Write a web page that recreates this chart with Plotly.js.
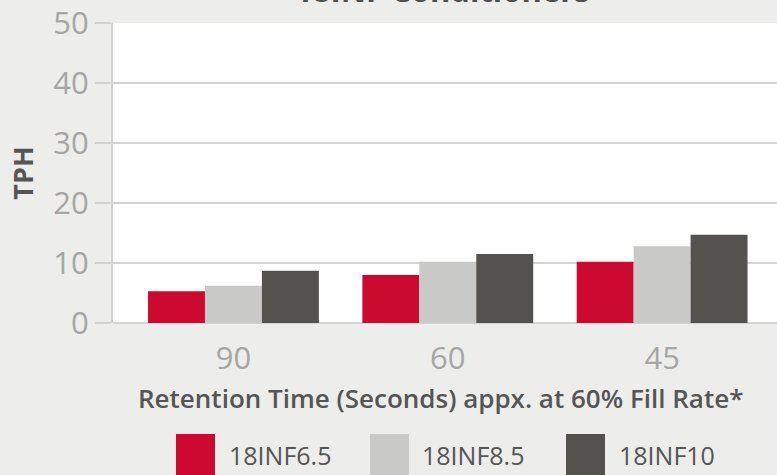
<!DOCTYPE html>
<html>
<head>
<meta charset="utf-8">
<script src="https://cdn.plot.ly/plotly-3.0.1.min.js"></script>
<style>html,body{margin:0;padding:0;background:#EDEDEB;}#chart{width:777px;height:475px;}</style>
</head>
<body>
<div id="chart"></div>
<script>
var categories = ["90", "60", "45"];
var seriesNames = ["18INF6.5", "18INF8.5", "18INF10"];
var series65 = [5.3, 8.0, 10.2];
var series85 = [6.2, 10.2, 12.8];
var series10 = [8.7, 11.5, 14.7];
var yTicks = [0, 10, 20, 30, 40, 50];
var chartTitle = "18INF Conditioners";
var xTitle = "Retention Time (Seconds) appx. at 60% Fill Rate*";
var yTitle = "TPH";

var colors = ["#CC0A2F", "#C9C9C7", "#53524F"];
var allSeries = [series65, series85, series10];

var W = 777, H = 475, L = 113, R = 0, T = 23, B = 152;
var pw = W - L - R, ph = H - T - B;
function px2x(p){ return (p - L) / pw; }
function px2y(p){ return (H - B - p) / ph; }

var traces = allSeries.map(function(vals, i){
  return {type: "bar", x: categories, y: vals, name: seriesNames[i],
    marker: {color: colors[i]}, showlegend: false, hoverinfo: "x+y+name"};
});

var legendBoxX = [176, 370, 566];
var legendTextX = [227, 420, 617];
var shapes = [], annotations = [];
seriesNames.forEach(function(n, i){
  shapes.push({type: "rect", xref: "paper", yref: "paper",
    x0: px2x(legendBoxX[i]), x1: px2x(legendBoxX[i] + 39),
    y0: px2y(434), y1: px2y(490), fillcolor: colors[i], line: {width: 0}, layer: "above"});
  annotations.push({xref: "paper", yref: "paper", x: px2x(legendTextX[i]), y: px2y(455),
    xanchor: "left", yanchor: "middle", showarrow: false, text: n,
    font: {family: "Open Sans", size: 25, color: "#555555"}});
});
annotations.push({xref: "paper", yref: "paper", x: px2x(442), y: px2y(13),
  xanchor: "center", yanchor: "bottom", showarrow: false, text: chartTitle,
  font: {family: "Open Sans", size: 31, color: "#4F4F4F", weight: 700}});
annotations.push({xref: "paper", yref: "paper", x: px2x(440), y: px2y(398),
  xanchor: "center", yanchor: "middle", showarrow: false, text: xTitle,
  font: {family: "Open Sans", size: 26, color: "#555555", weight: 600}});

var layout = {
  width: W, height: H,
  margin: {l: L, r: R, t: T, b: B, pad: 0},
  paper_bgcolor: "#EDEDEB", plot_bgcolor: "#FFFFFF",
  barmode: "group", bargap: 0.203, bargroupgap: 0,
  font: {family: "Open Sans", color: "#555555"},
  xaxis: {
    type: "category", range: [-0.562, 2.536],
    showgrid: false, zeroline: false, showline: false, ticks: "",
    tickfont: {family: "Open Sans", size: 31, color: "#A6A6A6"},
    ticklabelstandoff: 14
  },
  yaxis: {
    range: [0, 50], tickvals: yTicks, ticktext: yTicks.map(String),
    showgrid: true, gridcolor: "#D3D3D3", gridwidth: 2,
    zeroline: true, zerolinecolor: "#D3D3D3", zerolinewidth: 2,
    showline: true, linecolor: "#D3D3D3", linewidth: 2,
    ticks: "outside", ticklen: 16, tickwidth: 2, tickcolor: "#D3D3D3",
    tickfont: {family: "Open Sans", size: 31, color: "#A6A6A6"},
    ticklabelstandoff: 0,
    title: {text: yTitle, font: {family: "Open Sans", size: 27, color: "#555555", weight: 700}, standoff: 12}
  },
  shapes: shapes,
  annotations: annotations
};
Plotly.newPlot("chart", traces, layout, {displayModeBar: false, staticPlot: true});
</script>
</body>
</html>
